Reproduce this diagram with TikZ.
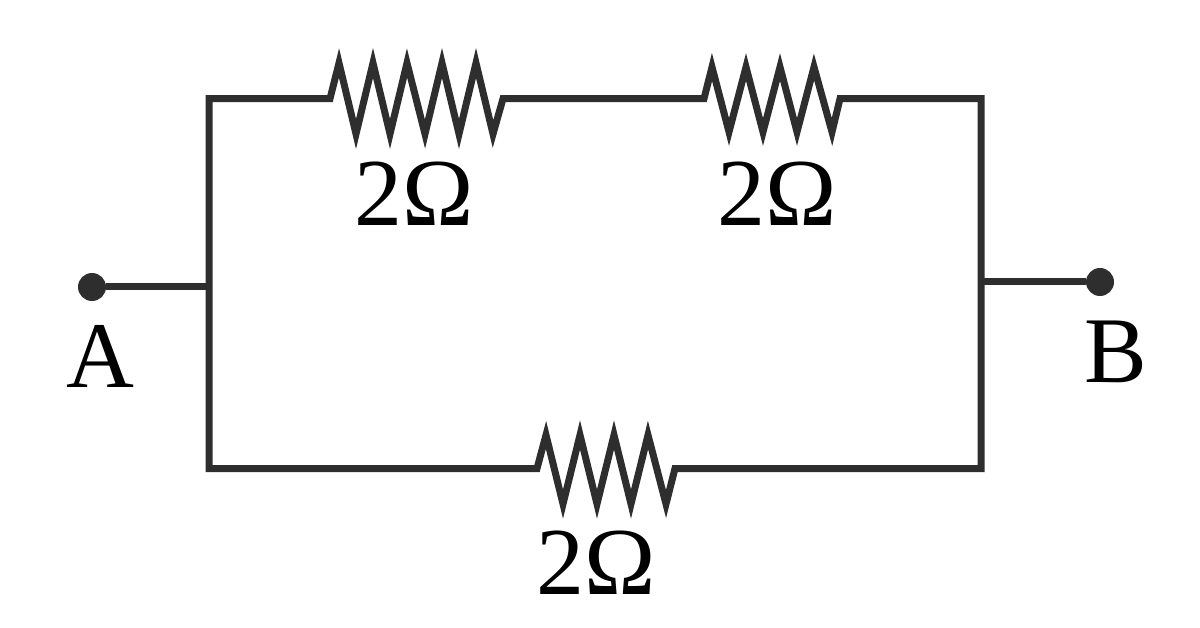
\documentclass[tikz,border=0pt]{standalone}
\usepackage{fontspec}
\setmainfont{Liberation Serif}
\usetikzlibrary{positioning}
\begin{document}
\begin{tikzpicture}[x=1pt, y=-1pt, line join=miter]

\tikzstyle{wire}=[draw=black!82, line width=7pt, miter limit=20]
\tikzstyle{value}=[inner sep=0pt, text=black, font=\fontsize{96}{96}\selectfont]
\tikzstyle{letter}=[inner sep=0pt, text=black, font=\fontsize{94}{94}\selectfont]
\tikzstyle{terminal}=[circle, fill=black!82, inner sep=0pt, minimum size=28pt]

\useasboundingbox (0,0) rectangle (1200,628);

\coordinate (topleft) at (209,98.7);
\coordinate (topright) at (981,98.7);
\coordinate (botleft) at (209,468.5);
\coordinate (botright) at (981,468.5);
\coordinate (midleft) at (209,287);
\coordinate (midright) at (981,282);

\node[terminal] (termA) at (92,287) {};
\node[terminal] (termB) at (1100,282) {};
\node[letter] (labelA) at (100,356) {A};
\node[letter] (labelB) at (1116,352) {B};

\draw[wire] (termA) -- (midleft);
\draw[wire] (termB) -- (midright);

% bottom branch, one resistor
\draw[wire] (midleft) -- (botleft) -- (537,468.5) -- (546,435) -- (563,504) -- (580,435) -- (597,504) -- (614,435) -- (631,504) -- (648,435) -- (666,504) -- (675,468.5) -- (botright) -- (midright);
% top branch, two resistors
\draw[wire] (midleft) -- (topleft) -- (330,98.7) -- (339,63) -- (356,134) -- (373,63) -- (390,134) -- (407,63) -- (425,134) -- (442,63) -- (459,134) -- (476,63) -- (493,134) -- (503,98.7) -- (704,98.7) -- (712,67) -- (729,132) -- (746,67) -- (763,132) -- (780,67) -- (797,132) -- (814,67) -- (832,132) -- (840,98.7) -- (topright) -- (midright);

\node[value] (resA) at (414,194) {2Ω};
\node[value] (resB) at (777,194) {2Ω};
\node[value] (resC) at (596,563) {2Ω};
\end{tikzpicture}
\end{document}
